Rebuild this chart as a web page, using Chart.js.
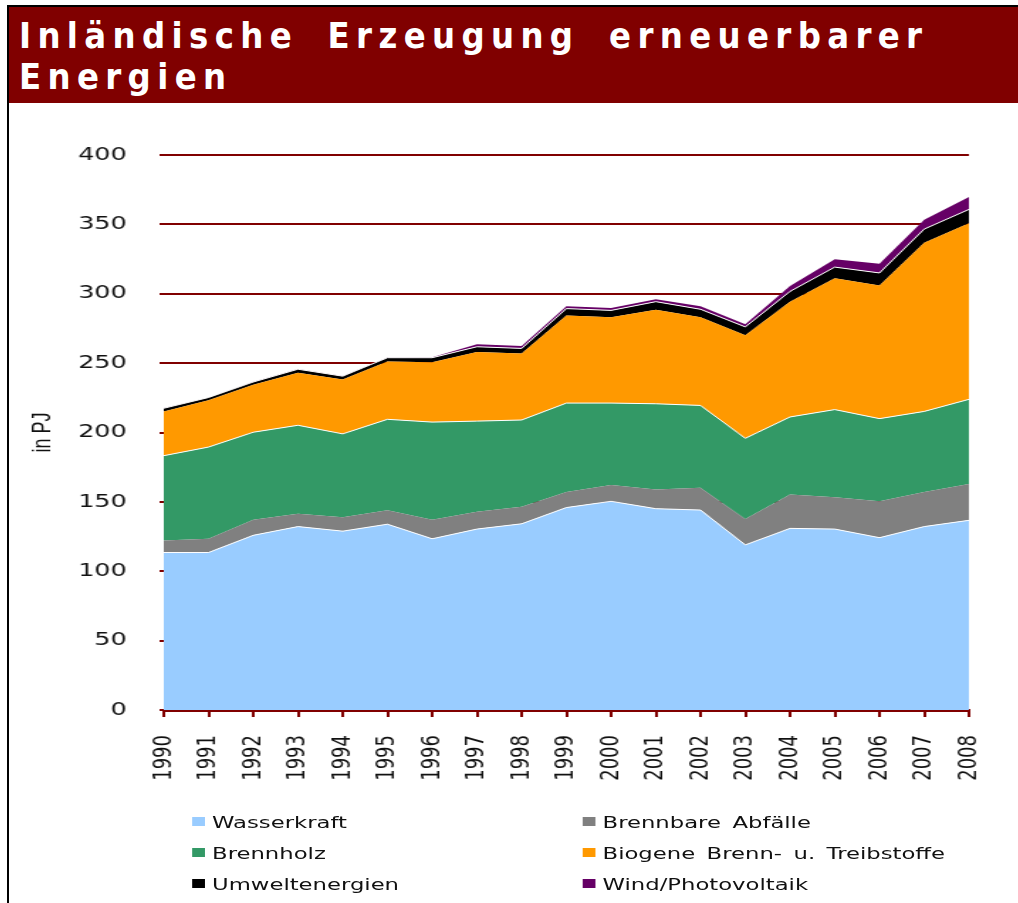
<!DOCTYPE html>
<html><head><meta charset="utf-8">
<script src="https://cdn.jsdelivr.net/npm/chart.js@4"></script>
<style>
html,body{margin:0;padding:0;background:#fff;width:1018px;height:903px;overflow:hidden;position:relative;font-family:"DejaVu Sans",sans-serif;}
#leftline{position:absolute;left:7px;top:5px;width:2px;height:898px;background:#000;}
#banner{position:absolute;left:7px;top:5px;width:1011px;height:98px;background:#800000;border-top:2px solid #000;box-sizing:border-box;}
#title{position:absolute;left:19px;top:15px;color:#fff;font:bold 36px/41px "DejaVu Sans Condensed","DejaVu Sans",sans-serif;white-space:nowrap;margin:0;word-spacing:12px;}
#wrap{position:absolute;left:9px;top:103px;width:710px;height:800px;transform:scaleX(1.42);transform-origin:0 0;}
#wrap canvas{position:absolute;left:0;top:0;}
.lg{position:absolute;font:16px/16px "DejaVu Sans",sans-serif;color:#111;white-space:nowrap;word-spacing:3px;}
.mk{position:absolute;width:9px;height:9px;}
</style></head><body>
<div id="banner"></div>
<div id="leftline"></div>
<div id="title"><div id="t1">Inländische Erzeugung erneuerbarer</div><div id="t2">Energien</div></div>
<div id="wrap"><canvas id="c" width="710" height="700"></canvas><div id="legend"></div></div>
<script>
const years = ['1990','1991','1992','1993','1994','1995','1996','1997','1998','1999','2000','2001','2002','2003','2004','2005','2006','2007','2008'];
const wasserkraft = [113.5,113.5,125.9,132.2,128.9,133.9,123.4,130.4,134.2,145.9,150.4,145.1,144.1,119.0,130.9,130.4,124.2,132.2,136.7];
const abfaelle    = [8.7,9.9,11.3,9.2,10.0,10.0,13.8,12.5,12.2,11.2,11.7,13.8,16.0,18.7,24.5,23.0,26.2,24.9,26.1];
const brennholz   = [61.1,66.1,63.0,63.8,60.1,65.6,70.3,65.3,62.6,64.1,59.1,61.8,59.4,58.1,55.8,63.1,59.6,58.1,61.1];
const biogen      = [31.9,33.7,34.2,37.9,39.2,41.6,43.1,49.9,47.9,63.1,61.8,67.8,63.5,74.3,83.1,94.7,96.0,121.5,127.0];
const umwelt      = [2.3,2.0,2.0,2.5,2.4,2.8,3.3,3.7,3.7,5.0,5.0,5.8,5.8,6.0,7.4,8.0,9.0,9.9,9.9];
const wind        = [0.1,0.1,0.1,0.1,0.1,0.2,0.3,1.8,1.7,1.7,1.8,1.7,2.2,2.0,3.8,5.7,6.7,6.8,9.0];
const seriesNames = ['Wasserkraft','Brennbare Abfälle','Brennholz','Biogene Brenn- u. Treibstoffe','Umweltenergien','Wind/Photovoltaik'];
const seriesColors = ['#99CCFF','#808080','#339966','#FF9900','#000000','#660066'];
const seriesEdge = [1, 0, 1, 0, 1, 0];
const series = [wasserkraft, abfaelle, brennholz, biogen, umwelt, wind];

// title letter spacing to fill the banner line
(function(){
  const cv = document.createElement('canvas').getContext('2d');
  cv.font = 'bold 36px "DejaVu Sans Condensed","DejaVu Sans"';
  const t = document.getElementById('t1').textContent;
  const w = cv.measureText(t).width;
  const ls = (903 - w - 2 * 12) / (t.length - 1);
  document.getElementById('title').style.letterSpacing = ls.toFixed(2) + 'px';
})();

const chart = new Chart(document.getElementById('c'), {
  type: 'line',
  data: {
    labels: years,
    datasets: series.map((d, i) => ({
      label: seriesNames[i], data: d,
      backgroundColor: seriesColors[i],
      borderColor: seriesEdge[i] ? '#ffffff' : seriesColors[i],
      borderWidth: seriesEdge[i] ? 1 : 0,
      fill: i === 0 ? 'origin' : '-1', pointRadius: 0, tension: 0
    }))
  },
  options: {
    responsive: false, animation: false,
    layout: { padding: { top: 52, right: 34, bottom: 0, left: 0 } },
    plugins: { legend: { display: false }, tooltip: { enabled: false } },
    scales: {
      x: {
        z: 1,
        grid: { drawOnChartArea: false, drawTicks: true, tickLength: 7, color: '#800000', lineWidth: 2 },
        border: { color: '#800000', width: 3 },
        ticks: { minRotation: 90, maxRotation: 90, autoSkip: false, padding: 18, color: '#111', font: { family: 'DejaVu Sans', size: 18 } },
        afterFit(s) { s.height = 93; s.paddingLeft = 0; s.paddingRight = 0; }
      },
      y: {
        stacked: true, min: 0, max: 400,
        ticks: { stepSize: 50, padding: 23, color: '#111', font: { family: 'DejaVu Sans', size: 18 } },
        grid: { color: '#800000', lineWidth: 2, tickLength: 3 },
        border: { display: false },
        title: { display: true, text: 'in PJ', color: '#111', font: { family: 'Liberation Sans', size: 18 }, padding: { top: 13, bottom: 0 } },
        afterFit(s) { s.width = 109; }
      }
    }
  }
});

// HTML legend in two columns
const lg = document.getElementById('legend');
const colX = [129, 404];
const rowY = [719, 750, 781];
chart.data.datasets.forEach((ds, i) => {
  const r = Math.floor(i / 2), c = i % 2;
  const m = document.createElement('div');
  m.className = 'mk'; m.style.background = ds.backgroundColor;
  m.style.left = colX[c] + 'px'; m.style.top = (rowY[r] - 5) + 'px';
  const t = document.createElement('div');
  t.className = 'lg'; t.textContent = ds.label;
  t.style.left = (colX[c] + 14) + 'px'; t.style.top = (rowY[r] - 7) + 'px';
  lg.appendChild(m); lg.appendChild(t);
});
</script>
</body></html>
